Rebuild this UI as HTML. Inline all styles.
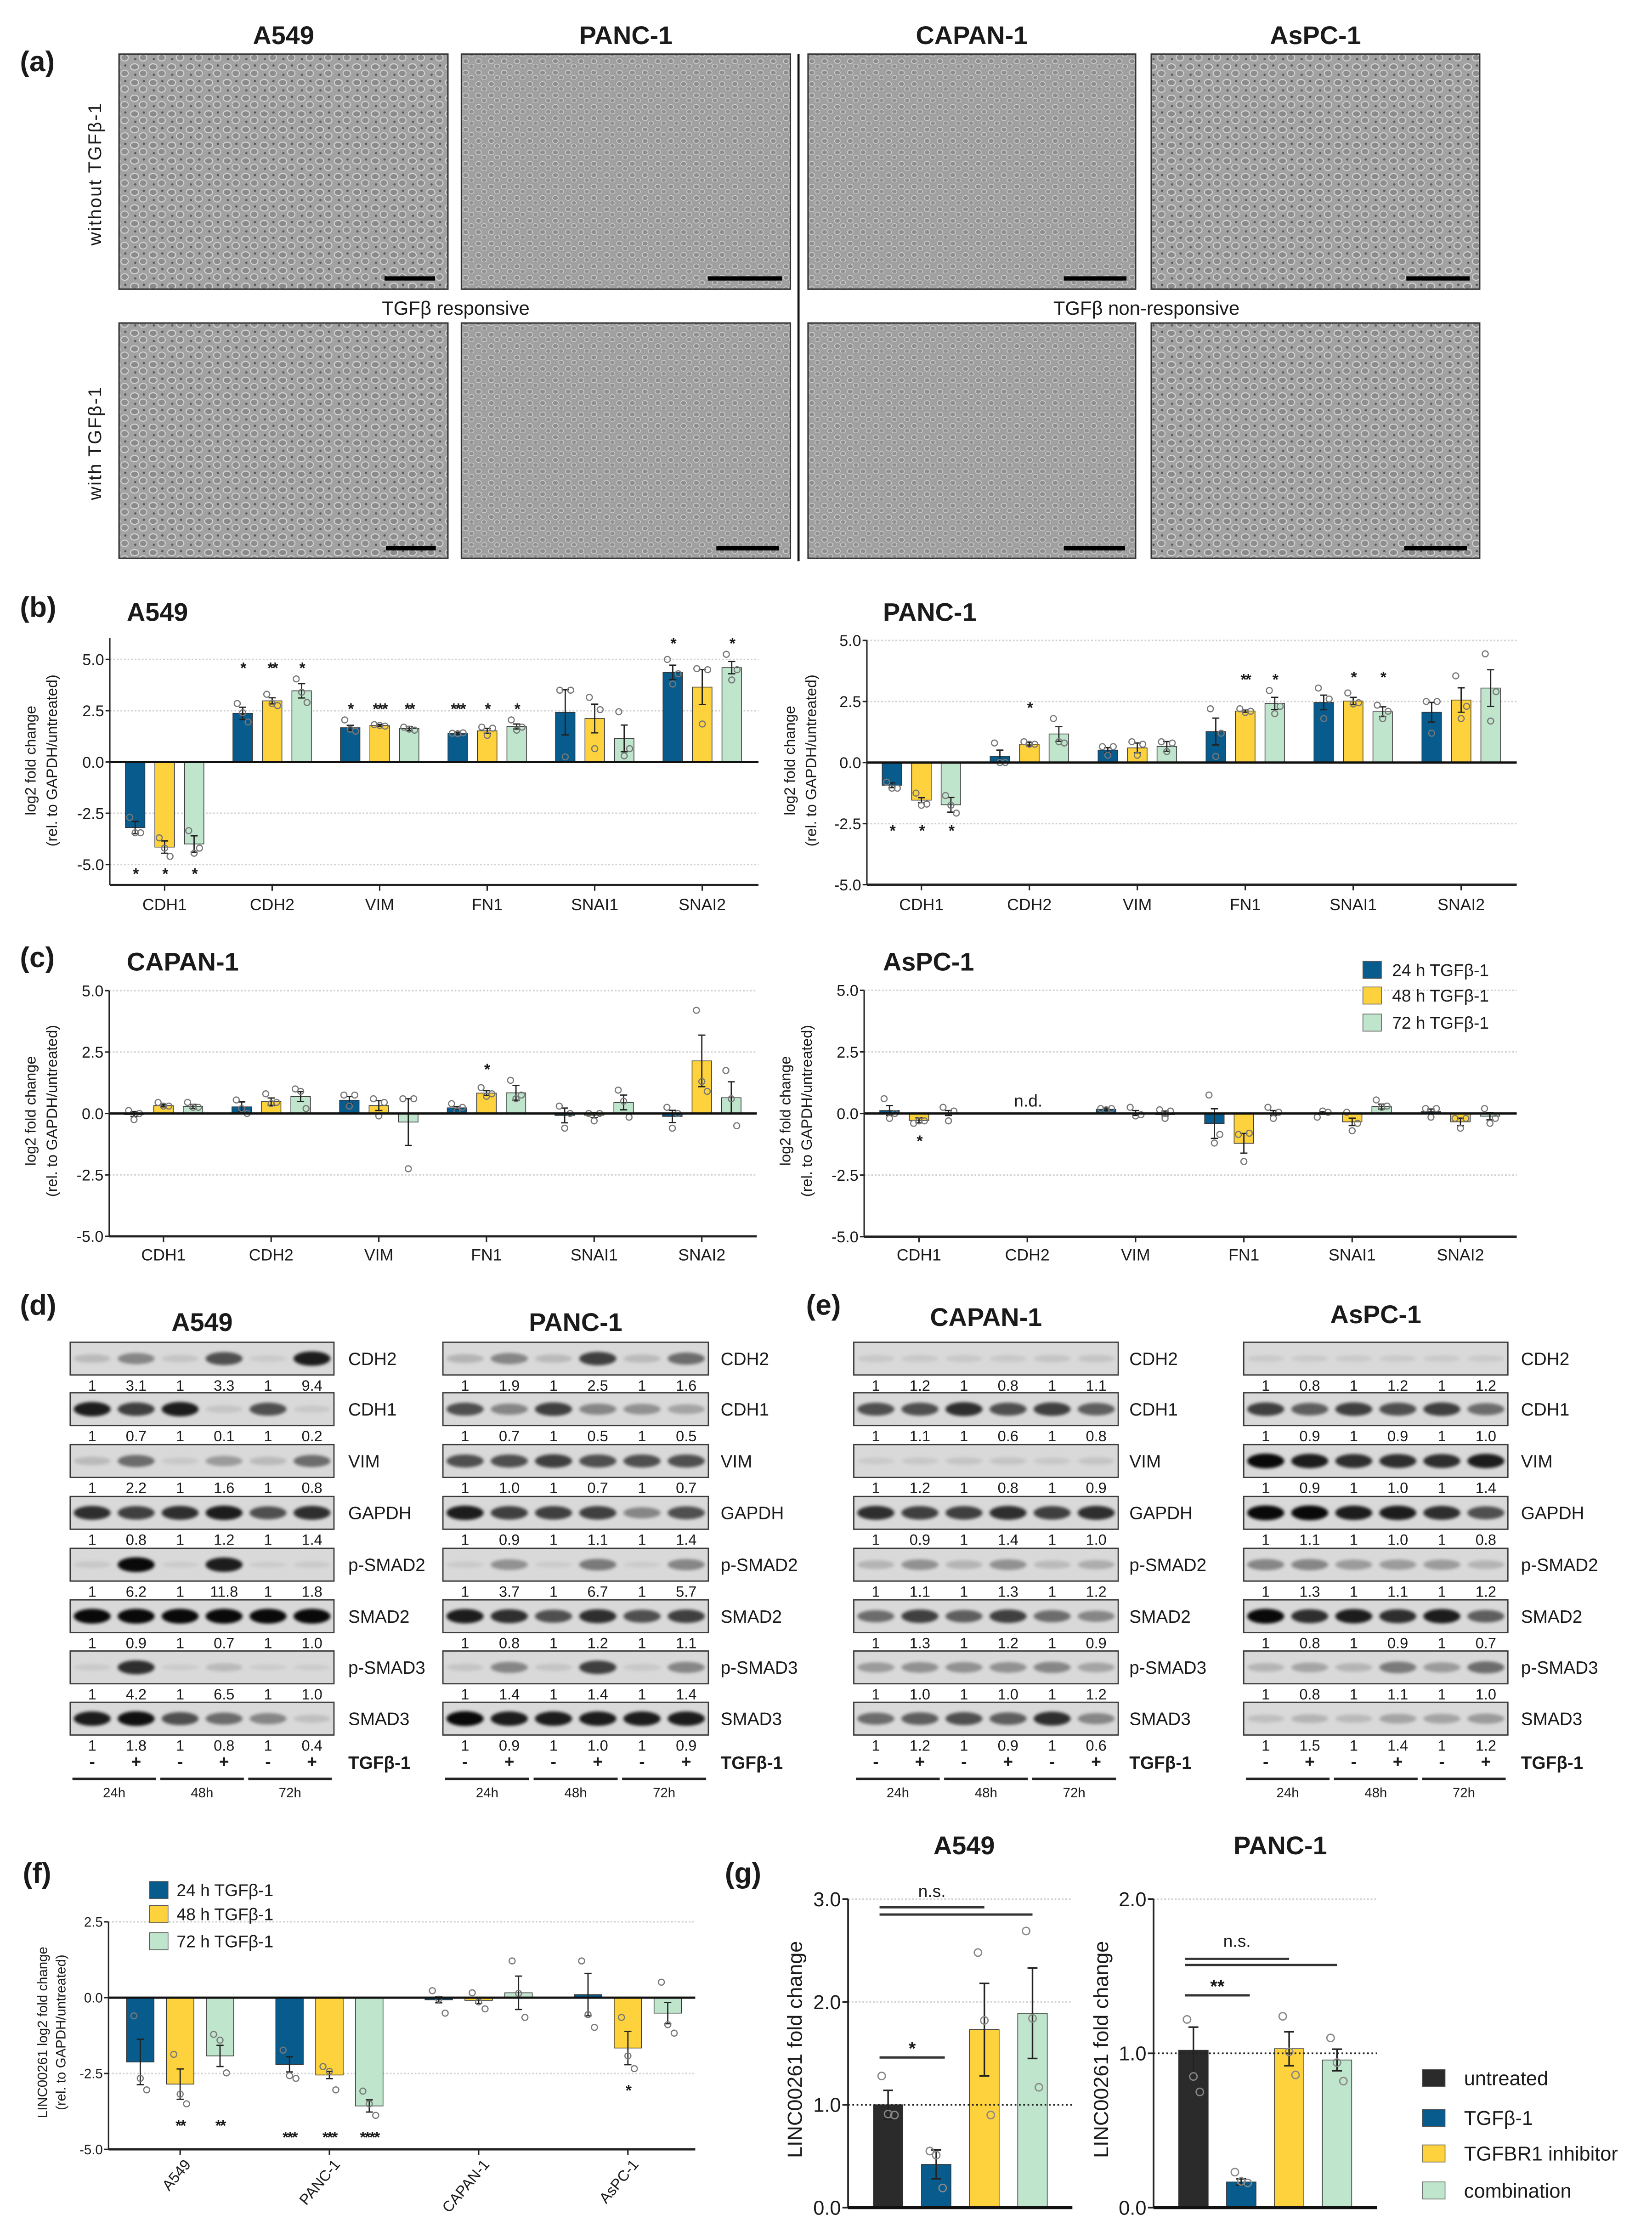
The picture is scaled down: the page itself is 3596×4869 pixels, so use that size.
<!DOCTYPE html>
<html><head><meta charset="utf-8">
<style>
html,body{margin:0;padding:0;background:#fff;}
svg{display:block;}
text{font-family:"Liberation Sans",sans-serif;fill:#1a1a1a;}
</style></head>
<body>
<svg id="fig" xmlns="http://www.w3.org/2000/svg" width="3596" height="4869" viewBox="0 0 1160 1570.65" preserveAspectRatio="none">
<defs>
<pattern id="cells" width="13" height="11" patternUnits="userSpaceOnUse">
<rect width="13" height="11" fill="#a2a2a2"/>
<ellipse cx="3.5" cy="3" rx="2.8" ry="2.2" fill="#8a8a8a" stroke="#d6d6d6" stroke-width=".7"/>
<ellipse cx="9.5" cy="7.5" rx="2.6" ry="2.3" fill="#8e8e8e" stroke="#d2d2d2" stroke-width=".7"/>
<circle cx="10" cy="2" r=".8" fill="#555"/>
<circle cx="4" cy="8.5" r=".8" fill="#5a5a5a"/>
</pattern>
<pattern id="cells2" width="9" height="8" patternUnits="userSpaceOnUse">
<rect width="9" height="8" fill="#a0a0a0"/>
<ellipse cx="3" cy="3" rx="2" ry="1.7" fill="#8d8d8d" stroke="#cfcfcf" stroke-width=".5"/>
<ellipse cx="7" cy="6.5" rx="1.8" ry="1.5" fill="#909090" stroke="#cccccc" stroke-width=".5"/>
</pattern>
<filter id="blur" x="-20%" y="-50%" width="140%" height="200%"><feGaussianBlur stdDeviation="1.1"/></filter>
</defs>
</svg>
<script>
// ---------- DATA ----------
const cellLines=['A549','PANC-1','CAPAN-1','AsPC-1'];
const genes=['CDH1','CDH2','VIM','FN1','SNAI1','SNAI2'];
const seriesNames=['24 h TGFβ-1','48 h TGFβ-1','72 h TGFβ-1'];
const seriesColors=['#075b8d','#fdd23c','#bfe5cd'];
const bTicks=[-5,-2.5,0,2.5,5];
const bTickLabels=['-5.0','-2.5','0.0','2.5','5.0'];

// (b) A549
const bA549_mean24=[-3.2,2.37,1.67,1.4,2.42,4.37];
const bA549_mean48=[-4.15,2.98,1.78,1.52,2.12,3.65];
const bA549_mean72=[-4.0,3.47,1.63,1.73,1.15,4.6];
const bA549_sem24=[0.3,0.3,0.12,0.05,1.1,0.35];
const bA549_sem48=[0.3,0.15,0.05,0.12,0.7,0.85];
const bA549_sem72=[0.4,0.35,0.1,0.12,0.65,0.3];
const bA549_pts24=[[-2.7,-3.45,-3.45],[2.85,2.4,1.95],[2.05,1.6,1.5],[1.4,1.38,1.42],[3.5,0.25,3.5],[5.0,3.8,4.3]];
const bA549_pts48=[[-3.7,-4.2,-4.6],[3.3,2.85,2.75],[1.82,1.78,1.75],[1.7,1.3,1.65],[3.15,0.65,2.55],[4.55,1.85,4.5]];
const bA549_pts72=[[-3.35,-4.45,-4.2],[4.05,3.4,2.9],[1.7,1.6,1.55],[2.05,1.55,1.7],[2.45,0.3,0.65],[5.25,4.0,4.5]];
const bA549_stars=[['*','*','*'],['*','**','*'],['*','***','**'],['***','*','*'],['','',''],['*','','*']];

// (b) PANC-1
const bPANC_mean24=[-0.93,0.26,0.51,1.27,2.46,2.06];
const bPANC_mean48=[-1.54,0.75,0.6,2.11,2.52,2.56];
const bPANC_mean72=[-1.73,1.17,0.66,2.42,2.08,3.05];
const bPANC_sem24=[0.1,0.25,0.1,0.55,0.3,0.4];
const bPANC_sem48=[0.1,0.07,0.2,0.05,0.15,0.5];
const bPANC_sem72=[0.3,0.3,0.2,0.25,0.2,0.75];
const bPANC_pts24=[[-0.8,-1.05,-1.05],[0.8,0.0,0.0],[0.65,0.3,0.65],[2.2,0.25,1.2],[3.05,1.8,2.6],[2.5,1.2,2.5]];
const bPANC_pts48=[[-1.25,-1.75,-1.7],[0.85,0.75,0.75],[0.85,0.3,0.75],[2.2,2.05,2.1],[2.85,2.4,2.45],[3.55,1.8,2.3]];
const bPANC_pts72=[[-1.35,-1.75,-2.07],[1.8,0.85,0.8],[0.85,0.45,0.8],[2.95,2.0,2.3],[2.35,1.8,2.1],[4.45,1.7,2.9]];
const bPANC_stars=[['*','*','*'],['','*',''],['','',''],['','**','*'],['','*','*'],['','','']];

// (c) CAPAN-1
const cCAPAN_mean24=[-0.02,0.27,0.54,0.23,-0.08,-0.12];
const cCAPAN_mean48=[0.32,0.48,0.32,0.83,-0.07,2.14];
const cCAPAN_mean72=[0.29,0.69,-0.35,0.84,0.45,0.64];
const cCAPAN_sem24=[0.1,0.2,0.15,0.05,0.3,0.25];
const cCAPAN_sem48=[0.05,0.15,0.2,0.1,0.1,1.05];
const cCAPAN_sem72=[0.08,0.2,0.95,0.3,0.3,0.65];
const cCAPAN_pts24=[[0.12,-0.25,0.0],[0.55,0.2,0.0],[0.75,0.3,0.75],[0.4,0.1,0.25],[0.3,-0.6,0.0],[0.25,-0.6,0.0]];
const cCAPAN_pts48=[[0.45,0.3,0.3],[0.8,0.4,0.45],[0.6,-0.1,0.45],[1.05,0.7,0.8],[0.0,-0.3,0.0],[4.2,1.3,0.9]];
const cCAPAN_pts72=[[0.45,0.25,0.25],[1.0,0.9,0.2],[0.6,-2.25,0.6],[1.35,0.6,0.75],[0.95,0.5,-0.15],[1.75,0.6,-0.5]];
const cCAPAN_stars=[['','',''],['','',''],['','',''],['','*',''],['','',''],['','','']];

// (c) AsPC-1 (CDH2 not detected)
const cASPC_mean24=[0.12,null,0.17,-0.41,0.02,0.08];
const cASPC_mean48=[-0.28,null,0.02,-1.21,-0.34,-0.34];
const cASPC_mean72=[0.02,null,0.0,0.02,0.28,-0.11];
const cASPC_sem24=[0.2,0,0.05,0.6,0.05,0.1];
const cASPC_sem48=[0.1,0,0.1,0.4,0.15,0.15];
const cASPC_sem72=[0.1,0,0.1,0.1,0.1,0.15];
const cASPC_pts24=[[0.6,-0.2,0.0],[],[0.2,0.15,0.2],[0.75,-1.2,-0.85],[-0.15,0.1,0.05],[0.2,-0.15,0.2]];
const cASPC_pts48=[[-0.4,-0.3,-0.3],[],[0.25,-0.1,-0.05],[-0.85,-1.95,-0.8],[0.05,-0.7,-0.4],[-0.2,-0.6,-0.2]];
const cASPC_pts72=[[0.25,-0.3,0.1],[],[0.15,-0.2,0.1],[0.25,-0.2,0.05],[0.55,0.25,0.3],[0.2,-0.4,-0.2]];
const cASPC_stars=[['','*',''],['','',''],['','',''],['','',''],['','',''],['','','']];

// (f) LINC00261
const fTicks=[-5,-2.5,0,2.5];
const fTickLabels=['-5.0','-2.5','0.0','2.5'];
const f_mean24=[-2.12,-2.2,-0.07,0.1];
const f_mean48=[-2.85,-2.55,-0.09,-1.66];
const f_mean72=[-1.92,-3.57,0.16,-0.51];
const f_sem24=[0.75,0.25,0.1,0.7];
const f_sem48=[0.5,0.12,0.1,0.55];
const f_sem72=[0.35,0.2,0.55,0.35];
const f_pts24=[[-0.6,-2.66,-3.04],[-1.73,-2.57,-2.66],[0.23,-0.05,-0.51],[1.21,-0.56,-0.98]];
const f_pts48=[[-1.87,-3.18,-3.5],[-2.27,-2.43,-3.04],[0.16,-0.14,-0.37],[-0.65,-1.92,-2.34]];
const f_pts72=[[-1.21,-1.4,-2.48],[-3.08,-3.5,-3.88],[1.21,0.14,-0.65],[0.51,-0.89,-1.17]];
const f_stars=[['','**','**'],['***','***','****'],['','',''],['','*','']];

// (g) LINC00261 fold change
const gGroups=['untreated','TGFβ-1','TGFBR1 inhibitor','combination'];
const gColors=['#2b2b2b','#075b8d','#fdd23c','#bfe5cd'];
const gA_mean=[1.0,0.42,1.73,1.89];
const gA_sem=[0.14,0.14,0.45,0.44];
const gA_pts=[[1.28,0.91,0.9],[0.55,0.51,0.19],[2.48,1.82,0.9],[2.69,1.84,1.17]];
const gA_ticks=[0,1,2,3];
const gA_tickLabels=['0.0','1.0','2.0','3.0'];
const gA_brackets=[[0,1,1.46,'*'],[0,2,2.92,''],[0,3,2.85,'']];
const gA_nsLabel=[1,3.02,'n.s.'];
const gP_mean=[1.02,0.166,1.03,0.957];
const gP_sem=[0.15,0.02,0.11,0.07];
const gP_pts=[[1.22,0.85,0.75],[0.23,0.17,0.16],[1.24,1.01,0.86],[1.1,0.94,0.82]];
const gP_ticks=[0,1,2];
const gP_tickLabels=['0.0','1.0','2.0'];
const gP_brackets=[[0,1,1.376,'**'],[0,2,1.613,''],[0,3,1.573,'']];
const gP_nsLabel=[1,1.69,'n.s.'];

// (d)/(e) western blots
const blotRows=['CDH2','CDH1','VIM','GAPDH','p-SMAD2','SMAD2','p-SMAD3','SMAD3'];
const wbA549_q=[['1','3.1','1','3.3','1','9.4'],['1','0.7','1','0.1','1','0.2'],['1','2.2','1','1.6','1','0.8'],['1','0.8','1','1.2','1','1.4'],['1','6.2','1','11.8','1','1.8'],['1','0.9','1','0.7','1','1.0'],['1','4.2','1','6.5','1','1.0'],['1','1.8','1','0.8','1','0.4']];
const wbPANC_q=[['1','1.9','1','2.5','1','1.6'],['1','0.7','1','0.5','1','0.5'],['1','1.0','1','0.7','1','0.7'],['1','0.9','1','1.1','1','1.4'],['1','3.7','1','6.7','1','5.7'],['1','0.8','1','1.2','1','1.1'],['1','1.4','1','1.4','1','1.4'],['1','0.9','1','1.0','1','0.9']];
const wbCAPAN_q=[['1','1.2','1','0.8','1','1.1'],['1','1.1','1','0.6','1','0.8'],['1','1.2','1','0.8','1','0.9'],['1','0.9','1','1.4','1','1.0'],['1','1.1','1','1.3','1','1.2'],['1','1.3','1','1.2','1','0.9'],['1','1.0','1','1.0','1','1.2'],['1','1.2','1','0.9','1','0.6']];
const wbASPC_q=[['1','0.8','1','1.2','1','1.2'],['1','0.9','1','0.9','1','1.0'],['1','0.9','1','1.0','1','1.4'],['1','1.1','1','1.0','1','0.8'],['1','1.3','1','1.1','1','1.2'],['1','0.8','1','0.9','1','0.7'],['1','0.8','1','1.1','1','1.0'],['1','1.5','1','1.4','1','1.2']];
const wbA549_band=[[.3,.6,.2,.8,.1,.95],[.95,.85,.95,.2,.8,.15],[.3,.7,.15,.5,.3,.7],[.9,.85,.9,.95,.8,.9],[.15,1,.05,.95,.05,.1],[1,1,1,1,1,1],[.1,.9,.05,.3,.03,.03],[.95,.98,.8,.7,.6,.25]];
const wbPANC_band=[[.35,.6,.3,.85,.3,.7],[.8,.6,.85,.6,.55,.45],[.8,.8,.85,.8,.8,.8],[.95,.85,.85,.85,.6,.8],[.1,.55,.05,.65,.05,.6],[.95,.9,.8,.9,.8,.85],[.2,.6,.2,.85,.15,.6],[1,.95,.95,.95,.95,.95]];
const wbCAPAN_band=[[.15,.15,.15,.15,.2,.2],[.8,.8,.9,.8,.85,.75],[.1,.15,.2,.2,.15,.2],[.9,.85,.85,.9,.85,.9],[.35,.55,.35,.55,.3,.4],[.7,.85,.75,.85,.7,.6],[.5,.55,.55,.55,.6,.45],[.7,.75,.8,.75,.9,.6]];
const wbASPC_band=[[.1,.1,.1,.1,.1,.1],[.85,.75,.85,.8,.85,.7],[1,.95,.9,.9,.9,.95],[1,1,.95,.95,.9,.8],[.6,.6,.5,.5,.5,.35],[1,.9,.95,.9,.95,.75],[.35,.45,.35,.65,.5,.7],[.25,.35,.3,.45,.45,.5]];
const wbTreat=['-','+','-','+','-','+'];
const wbTimes=['24h','48h','72h'];

// ---------- HELPERS ----------
const NS='http://www.w3.org/2000/svg';
const svg=document.getElementById('fig');
function mk(tag,attrs,parent){const e=document.createElementNS(NS,tag);for(const k in attrs)e.setAttribute(k,attrs[k]);(parent||svg).appendChild(e);return e;}
function txt(s,x,y,size,opts,parent){const t=mk('text',Object.assign({x:x,y:y,'font-size':size},opts||{}),parent);t.textContent=s;return t;}

// ---------- PANEL A ----------
(function(){
  const g=mk('g',{});
  
  
  const cols=[[83.6,314.5],[324,555],[567.4,797.4],[808.4,1039]];
  const rows=[[38,203],[226.8,392]];
  const bars=[[[270,305.5],[497,549],[747,791],[987.5,1032]],[[271,306],[503,547],[747,790],[986,1030]]];
  const barY=[195.5,385];
  const pats=[['cells','cells2','cells2','cells'],['cells','cells2','cells2','cells']];
  const l=txt('(a)',14,50,20,{'font-weight':'bold'},g);
  
  cols.forEach((c,i)=>{
    const h=txt(cellLines[i],(c[0]+c[1])/2,31,18,{'font-weight':'bold','text-anchor':'middle'},g);
    
    
    rows.forEach((r,j)=>{
      const im=mk('rect',{x:c[0],y:r[0],width:c[1]-c[0],height:r[1]-r[0],fill:'url(#'+pats[j][i]+')',stroke:'#333','stroke-width':1},g);
      
      
      const sb=mk('rect',{x:bars[j][i][0],y:barY[j]-1.5,width:bars[j][i][1]-bars[j][i][0],height:3,fill:'#000'},g);
      
      
    });
  });
  const sep=mk('line',{x1:560.7,y1:38,x2:560.7,y2:394,stroke:'#111','stroke-width':1.5},g);
  
  const r1=txt('without TGFβ-1',71,122,13,{'text-anchor':'middle',transform:'rotate(-90 71 122)','letter-spacing':'0.8'},g);
  
  const r2=txt('with TGFβ-1',71,311,13,{'text-anchor':'middle',transform:'rotate(-90 71 311)','letter-spacing':'0.8'},g);
  
  const t1=txt('TGFβ responsive',320,221,13.5,{'text-anchor':'middle'},g);
  
  const t2=txt('TGFβ non-responsive',805,221,13.5,{'text-anchor':'middle'},g);
  
})();

// ---------- GROUPED BAR CHART ----------
function drawBar(c){
  const g=mk('g',{});
  
  
  const y=v=>c.zero-v*c.ppu;
  c.ticks.forEach((t,i)=>{
    if(t!==0&&t<=c.vmax){
      const gl=mk('line',{x1:c.x0,x2:c.x1,y1:y(t),y2:y(t),stroke:'#cfcfcf','stroke-width':1,'stroke-dasharray':'1.2 1.3'},g);
      
    }
    const tk=mk('line',{x1:c.x0-3,x2:c.x0,y1:y(t),y2:y(t),stroke:'#222','stroke-width':1},g);
    
    const tl=txt(c.tickLabels[i],c.x0-4,y(t)+c.tfs*0.36,c.tfs,{'text-anchor':'end'},g);
    
  });
  const nCat=c.cats.length;
  for(let k=0;k<nCat;k++){
    const cx=c.cat0+k*c.step;
    let top=-1e9,bot=1e9;
    for(let s=0;s<3;s++){
      const m=c.means[s][k]; if(m===null) continue;
      const e=c.sems[s][k];
      top=Math.max(top,m+e,...c.pts[s][k]); bot=Math.min(bot,m-e,...c.pts[s][k]);
    }
    for(let s=0;s<3;s++){
      const m=c.means[s][k]; if(m===null) continue;
      const x=cx+(s-1)*c.off, e=c.sems[s][k];
      const b=mk('rect',{x:x-c.bw/2,y:Math.min(y(0),y(m)),width:c.bw,height:Math.max(0.8,Math.abs(y(m)-y(0))),fill:seriesColors[s],stroke:'#333','stroke-width':0.5},g);
      
      
      const eb=mk('path',{d:`M${x} ${y(m-e)}V${y(m+e)}M${x-2.5} ${y(m-e)}H${x+2.5}M${x-2.5} ${y(m+e)}H${x+2.5}`,stroke:'#222','stroke-width':0.9,fill:'none'},g);
      
      c.pts[s][k].forEach((p,j)=>{
        const pt=mk('circle',{cx:x+(j-1)*c.jit,cy:y(p),r:c.pr,fill:'none',stroke:'#777','stroke-width':0.8},g);
        
      });
      const st=c.stars[k][s];
      if(st){
        const m2=c.means[s][k];
        const sy=(m2>=0)?y(top)-c.spad:y(bot)+c.spad;
        const sm=txt(st,x,sy+c.sfs*0.55,c.sfs,{'text-anchor':'middle','font-weight':'bold','letter-spacing':'-1'},g);
        
      }
    }
    const xt=mk('line',{x1:cx,x2:cx,y1:y(c.vmin),y2:y(c.vmin)+4,stroke:'#222','stroke-width':1},g);
    
    let cl;
    if(c.rot){
      cl=txt(c.cats[k],cx+8,c.labelY,c.cfs,{'text-anchor':'end',transform:`rotate(-50 ${cx+8} ${c.labelY})`},g);
    } else {
      cl=txt(c.cats[k],cx,c.labelY,c.cfs,{'text-anchor':'middle'},g);
    }
    
    
  }
  const zl=mk('line',{x1:c.x0,x2:c.x1,y1:y(0),y2:y(0),stroke:'#111','stroke-width':1.6},g);
  
  const ya=mk('line',{x1:c.x0,x2:c.x0,y1:y(c.vmax),y2:y(c.vmin),stroke:'#222','stroke-width':1},g);
  
  const xa=mk('line',{x1:c.x0,x2:c.x1,y1:y(c.vmin),y2:y(c.vmin),stroke:'#222','stroke-width':1.6},g);
  
  c.ytitle.forEach((s,i)=>{
    const yx=c.ytx[i];
    const yt=txt(s,yx,c.ytcy,c.yfs,{'text-anchor':'middle',transform:`rotate(-90 ${yx} ${c.ytcy})`},g);
    
  });
  return g;
}
const ytB=['log2 fold change','(rel. to GAPDH/untreated)'];
const commonB={cats:genes,ticks:bTicks,tickLabels:bTickLabels,off:20.7,bw:13.7,jit:3.8,pr:2.1,tfs:11,cfs:11.5,sfs:11,spad:10,yfs:10.5,ytitle:ytB};
drawBar(Object.assign({},commonB,{name:'chart-b-a549',x0:77.1,x1:532.6,zero:535,ppu:14.4,vmin:-6.0,vmax:6.05,cat0:115.6,step:75.5,labelY:639,ytx:[25,40],ytcy:534,
  means:[bA549_mean24,bA549_mean48,bA549_mean72],sems:[bA549_sem24,bA549_sem48,bA549_sem72],pts:[bA549_pts24,bA549_pts48,bA549_pts72],stars:bA549_stars}));
drawBar(Object.assign({},commonB,{name:'chart-b-panc1',x0:608.7,x1:1065,zero:535.4,ppu:17.15,vmin:-5,vmax:5,cat0:647,step:75.8,labelY:639,ytx:[558,573],ytcy:534,
  means:[bPANC_mean24,bPANC_mean48,bPANC_mean72],sems:[bPANC_sem24,bPANC_sem48,bPANC_sem72],pts:[bPANC_pts24,bPANC_pts48,bPANC_pts72],stars:bPANC_stars}));
drawBar(Object.assign({},commonB,{name:'chart-c-capan1',x0:76.7,x1:531.4,zero:781.8,ppu:17.25,vmin:-5,vmax:5,cat0:114.8,step:75.6,labelY:885,ytx:[25,40],ytcy:780,
  means:[cCAPAN_mean24,cCAPAN_mean48,cCAPAN_mean72],sems:[cCAPAN_sem24,cCAPAN_sem48,cCAPAN_sem72],pts:[cCAPAN_pts24,cCAPAN_pts48,cCAPAN_pts72],stars:cCAPAN_stars}));
drawBar(Object.assign({},commonB,{name:'chart-c-aspc1',x0:606.8,x1:1065,zero:781.8,ppu:17.3,vmin:-5,vmax:5,cat0:645.3,step:76.04,labelY:885,ytx:[555,570],ytcy:780,
  means:[cASPC_mean24,cASPC_mean48,cASPC_mean72],sems:[cASPC_sem24,cASPC_sem48,cASPC_sem72],pts:[cASPC_pts24,cASPC_pts48,cASPC_pts72],stars:cASPC_stars}));
drawBar({name:'chart-f-linc00261',cats:cellLines,ticks:fTicks,tickLabels:fTickLabels,off:28,bw:19.3,jit:4.5,pr:2.1,tfs:9.5,cfs:10.5,sfs:11,spad:13,yfs:9.5,
  ytitle:['LINC00261 log2 fold change','(rel. to GAPDH/untreated)'],ytx:[33,46],ytcy:1427,rot:true,
  x0:76.2,x1:488.2,zero:1402.6,ppu:21.3,vmin:-5,vmax:2.5,cat0:126.5,step:104.8,labelY:1520,
  means:[f_mean24,f_mean48,f_mean72],sems:[f_sem24,f_sem48,f_sem72],pts:[f_pts24,f_pts48,f_pts72],stars:f_stars});

// titles & labels b/c/f
[['(b)',14,433,20,'bold','panel-b-label'],['A549',89,436,18,'bold','chart-b-a549-title'],['PANC-1',620,436,18,'bold','chart-b-panc1-title'],
 ['(c)',14,679,20,'bold','panel-c-label'],['CAPAN-1',89,681.5,18,'bold','chart-c-capan1-title'],['AsPC-1',620,681.5,18,'bold','chart-c-aspc1-title'],
 ['(d)',14,923,20,'bold','panel-d-label'],['(e)',566,923,20,'bold','panel-e-label'],
 ['(f)',16,1322,20,'bold','panel-f-label'],['(g)',509,1322,20,'bold','panel-g-label']].forEach(a=>{
  const t=txt(a[0],a[1],a[2],a[3],{'font-weight':a[4]});
  
  
});
const nd=txt('n.d.',722,777,12,{'text-anchor':'middle'});


// legends for c and f
function legend3(x,ys,tx,fs,name){
  const g=mk('g',{});
  
  
  seriesNames.forEach((s,i)=>{
    const r=mk('rect',{x:x,y:ys[i]-6,width:13,height:12,fill:seriesColors[i],stroke:'#555','stroke-width':0.5},g);
    
    const t=txt(s,tx,ys[i]+4.3,fs,{},g);
    
  });
}
legend3(957,[681,699,718],977.5,12,'legend-c');
legend3(105,[1327,1344,1363],124,12,'legend-f');

// ---------- BLOTS ----------
const rowTops=[942.4,977.9,1014.3,1050.7,1087.1,1123.3,1159.2,1195.2];
function drawBlot(b){
  const g=mk('g',{});
  
  
  const tt=txt(b.title,(b.x0+b.x1)/2,b.ty,18,{'font-weight':'bold','text-anchor':'middle'},g);
  
  const w=(b.x1-b.x0)/6;
  const lane=i=>b.x0+(i+0.5)*w;
  blotRows.forEach((rn,r)=>{
    const top=rowTops[r];
    const box=mk('rect',{x:b.x0,y:top,width:b.x1-b.x0,height:23,fill:'#d9d9d9',stroke:'#3a3a3a','stroke-width':0.9},g);
    
    
    for(let i=0;i<6;i++){
      const d=b.band[r][i];
      const bd=mk('ellipse',{cx:lane(i),cy:top+11.5,rx:w*0.42,ry:2+d*3.2,fill:'#000','fill-opacity':Math.min(1,d*d*0.9+0.06),filter:'url(#blur)'},g);
      
      const q=txt(b.q[r][i],lane(i),top+34,10.5,{'text-anchor':'middle'},g);
      
    }
    const lb=txt(rn,b.lx,top+16,12.5,{},g);
    
  });
  for(let i=0;i<6;i++){
    const s=txt(wbTreat[i],lane(i),1241,12,{'text-anchor':'middle','font-weight':'bold'},g);
    
  }
  const tl=txt('TGFβ-1',b.lx,1242,12.5,{'font-weight':'bold'},g);
  
  for(let k=0;k<3;k++){
    const xa=lane(2*k)-w*0.45, xb=lane(2*k+1)+w*0.45;
    const ul=mk('line',{x1:xa,x2:xb,y1:1249,y2:1249,stroke:'#222','stroke-width':1.8},g);
    
    const tm=txt(wbTimes[k],(xa+xb)/2,1262,9.5,{'text-anchor':'middle'},g);
    
  }
}
drawBlot({name:'blot-d-a549',title:'A549',ty:934.6,x0:49.3,x1:234.5,lx:244.5,q:wbA549_q,band:wbA549_band});
drawBlot({name:'blot-d-panc1',title:'PANC-1',ty:934.6,x0:311,x1:497.4,lx:506,q:wbPANC_q,band:wbPANC_band});
drawBlot({name:'blot-e-capan1',title:'CAPAN-1',ty:931,x0:599.5,x1:785.2,lx:793,q:wbCAPAN_q,band:wbCAPAN_band});
drawBlot({name:'blot-e-aspc1',title:'AsPC-1',ty:929,x0:873.3,x1:1058.8,lx:1068,q:wbASPC_q,band:wbASPC_band});

// ---------- PANEL G ----------
function drawG(c){
  const g=mk('g',{});
  
  
  const y=v=>c.zero-v*c.ppu;
  const vmax=c.ticks[c.ticks.length-1];
  c.ticks.forEach((t,i)=>{
    if(t>1){
      const gl=mk('line',{x1:c.x0,x2:c.x1,y1:y(t),y2:y(t),stroke:'#d0d0d0','stroke-width':1,'stroke-dasharray':'1.2 1.3'},g);
      
    }
    const tk=mk('line',{x1:c.x0-4,x2:c.x0,y1:y(t),y2:y(t),stroke:'#222','stroke-width':1.2},g);
    
    const tl=txt(c.tickLabels[i],c.x0-5,y(t)+5,14,{'text-anchor':'end'},g);
    
  });
  c.mean.forEach((m,k)=>{
    const x=c.c0+k*c.step, e=c.sem[k];
    const b=mk('rect',{x:x-c.bw/2,y:y(m),width:c.bw,height:y(0)-y(m),fill:gColors[k],stroke:'#333','stroke-width':0.5},g);
    
    
    const eb=mk('path',{d:`M${x} ${y(m-e)}V${y(m+e)}M${x-3.5} ${y(m-e)}H${x+3.5}M${x-3.5} ${y(m+e)}H${x+3.5}`,stroke:'#222','stroke-width':1.1,fill:'none'},g);
    
    c.pts[k].forEach((p,j)=>{
      const pt=mk('circle',{cx:x+(j-1)*4.5,cy:y(p),r:2.6,fill:'none',stroke:'#888','stroke-width':0.9},g);
      
    });
  });
  const ref=mk('line',{x1:c.x0,x2:c.x1,y1:y(1),y2:y(1),stroke:'#222','stroke-width':1.2,'stroke-dasharray':'1.2 1.8'},g);
  
  c.brackets.forEach(br=>{
    const xa=c.c0+br[0]*c.step-6, xb=c.c0+br[1]*c.step+(br[3]?6:0);
    const ln=mk('line',{x1:xa,x2:xb,y1:y(br[2]),y2:y(br[2]),stroke:'#333','stroke-width':1.6},g);
    
    if(br[3]){
      const st=txt(br[3],(xa+xb)/2,y(br[2])-2,13,{'text-anchor':'middle','font-weight':'bold'},g);
      
    }
  });
  const ns=txt(c.ns[2],c.c0+c.ns[0]*c.step-3,y(c.ns[1]),12,{'text-anchor':'middle'},g);
  
  const ya=mk('line',{x1:c.x0,x2:c.x0,y1:y(vmax),y2:y(0),stroke:'#222','stroke-width':1.2},g);
  
  const xa=mk('line',{x1:c.x0,x2:c.x1,y1:y(0),y2:y(0),stroke:'#111','stroke-width':2.2},g);
  
  const yt=txt('LINC00261 fold change',c.ytx,1439,14.5,{'text-anchor':'middle',transform:`rotate(-90 ${c.ytx} 1439)`},g);
  
  const tt=txt(c.title,c.tx,1302,18,{'font-weight':'bold','text-anchor':'middle'},g);
  
}
drawG({name:'chart-g-a549',title:'A549',tx:677,x0:595.5,x1:753,zero:1550,ppu:72.2,c0:623.6,step:33.8,bw:20.7,ytx:563,
  mean:gA_mean,sem:gA_sem,pts:gA_pts,ticks:gA_ticks,tickLabels:gA_tickLabels,brackets:gA_brackets,ns:gA_nsLabel});
drawG({name:'chart-g-panc1',title:'PANC-1',tx:899,x0:810,x1:966.8,zero:1550,ppu:108.3,c0:838,step:33.6,bw:20.7,ytx:778,
  mean:gP_mean,sem:gP_sem,pts:gP_pts,ticks:gP_ticks,tickLabels:gP_tickLabels,brackets:gP_brackets,ns:gP_nsLabel});
(function(){
  const g=mk('g',{});
  
  
  const ys=[1459,1487,1512,1538];
  gGroups.forEach((s,i)=>{
    const r=mk('rect',{x:998.7,y:ys[i]-6,width:16,height:12,fill:gColors[i],stroke:'#555','stroke-width':0.5},g);
    
    const t=txt(s,1028,ys[i]+5,14,{},g);
    
  });
})();
</script>
</body></html>
